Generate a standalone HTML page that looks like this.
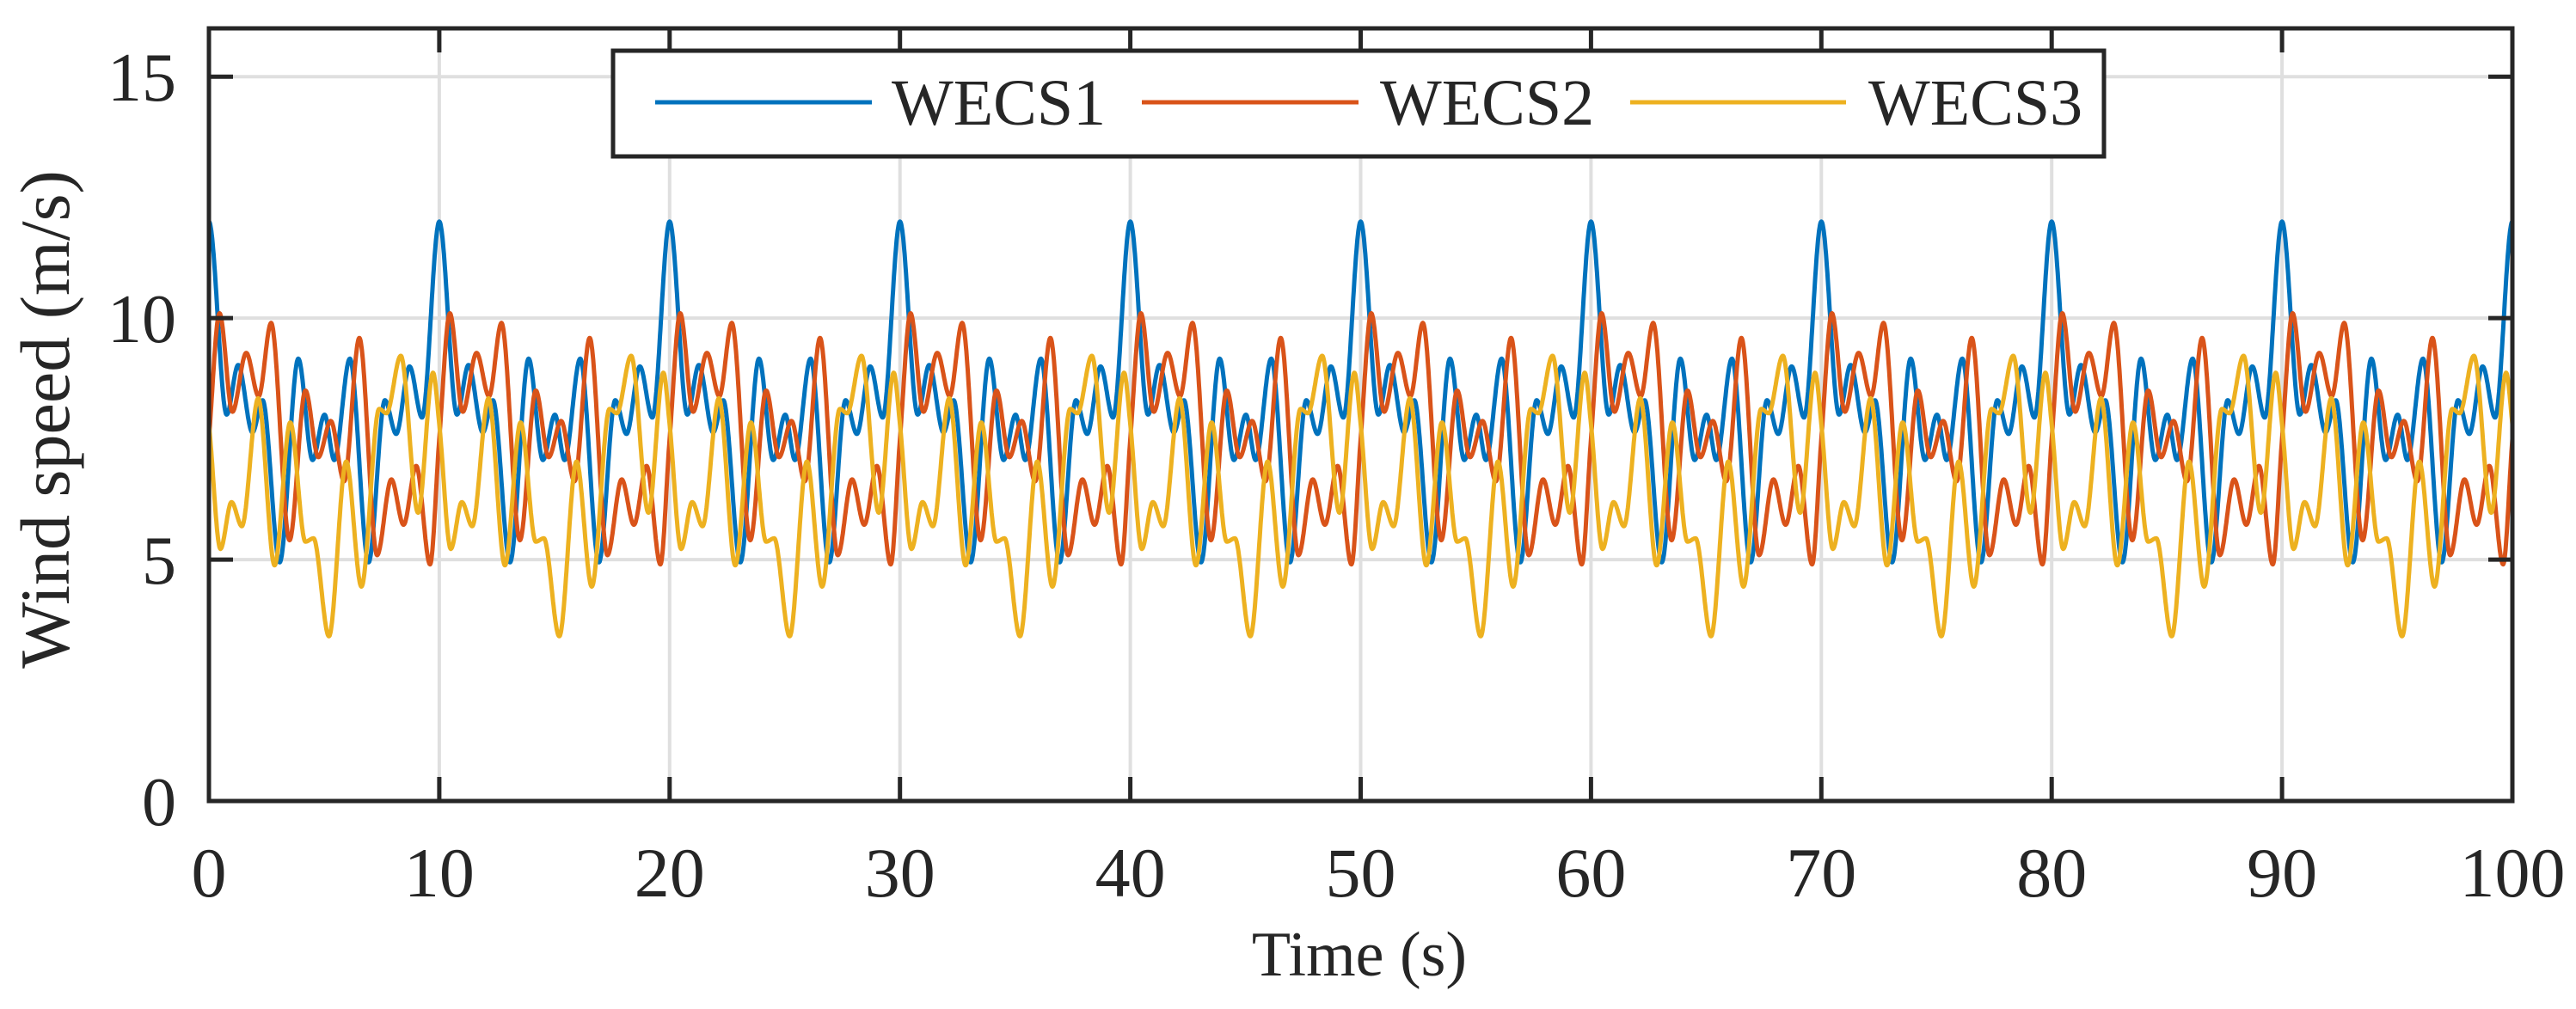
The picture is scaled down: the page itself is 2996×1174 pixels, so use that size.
<!DOCTYPE html>
<html><head><meta charset="utf-8"><style>
html,body{margin:0;padding:0;background:#fff;}
svg{display:block;}
text{font-family:"Liberation Serif",serif;fill:#262626;}
</style></head><body>
<svg id="chart" width="2996" height="1174" viewBox="0 0 2996 1174" xmlns="http://www.w3.org/2000/svg">
<rect width="2996" height="1174" fill="#fff"/>
<g id="grid"></g>
<g id="series"></g>
<g id="axes"></g>
<text x="1581" y="1135" font-size="74" text-anchor="middle">Time (s)</text>
<text x="0" y="0" font-size="82" text-anchor="middle" transform="translate(80,488) rotate(-90)">Wind speed (m/s)</text>
<g id="legend">
<rect x="713" y="59" width="1734" height="123" fill="#fff" stroke="#262626" stroke-width="5"/>
<line x1="762" y1="119" x2="1014" y2="119" stroke="#0072bd" stroke-width="5"/>
<text x="1037" y="145" font-size="76">WECS1</text>
<line x1="1328" y1="119" x2="1580" y2="119" stroke="#d95319" stroke-width="5"/>
<text x="1605" y="145" font-size="76">WECS2</text>
<line x1="1896" y1="119" x2="2147" y2="119" stroke="#edb120" stroke-width="5"/>
<text x="2173" y="145" font-size="76">WECS3</text>
</g>
</svg>
<script>
// one 10-s period of each series (extrema)
const periodLength = 10;
const periodCount = 10;
const wecs1T = [0, 0.77, 1.27, 1.89, 2.33, 3.07, 3.88, 4.5, 5.02, 5.44, 6.12, 6.93, 7.64, 8.13, 8.71, 9.25, 10];
const wecs1V = [12.0, 8.0, 9.03, 7.63, 8.3, 4.94, 9.16, 7.06, 8.0, 7.06, 9.16, 4.94, 8.3, 7.6, 9.0, 7.94, 12.0];
const wecs2T = [0, 0.46, 1.02, 1.62, 2.16, 2.7, 3.5, 4.19, 4.75, 5.29, 5.87, 6.53, 7.3, 7.92, 8.45, 9.0, 9.6, 10];
const wecs2V = [7.5, 10.1, 8.06, 9.28, 8.38, 9.9, 5.4, 8.5, 7.12, 7.87, 6.62, 9.59, 5.09, 6.66, 5.72, 6.94, 4.9, 7.5];
const wecs3T = [0, 0.5, 0.98, 1.43, 2.14, 2.85, 3.53, 4.19, 4.54, 5.21, 5.96, 6.62, 7.39, 7.71, 8.33, 9.08, 9.73, 10];
const wecs3V = [7.8, 5.22, 6.19, 5.69, 8.34, 4.88, 7.84, 5.37, 5.44, 3.41, 7.03, 4.44, 8.12, 8.03, 9.22, 5.97, 8.87, 7.8];
const xTicks = [0, 10, 20, 30, 40, 50, 60, 70, 80, 90, 100];
const yTicks = [0, 5, 10, 15];
const xDomain = [0, 100];
const yDomain = [0, 16];

const NS = "http://www.w3.org/2000/svg";
const L = 243, R = 2922, T = 33, B = 932;
function xs(v){ return L + (v - xDomain[0]) / (xDomain[1] - xDomain[0]) * (R - L); }
function ys(v){ return B - (v - yDomain[0]) / (yDomain[1] - yDomain[0]) * (B - T); }
function mk(tag, attrs, parent){ const e = document.createElementNS(NS, tag); for (const k in attrs) e.setAttribute(k, attrs[k]); parent.appendChild(e); return e; }

const grid = document.getElementById('grid');
const axes = document.getElementById('axes');
xTicks.forEach(v => {
  const g = mk('line', {x1: xs(v), x2: xs(v), y1: T, y2: B, stroke: '#dfdfdf', 'stroke-width': 4}, grid);
  
  
  const t1 = mk('line', {x1: xs(v), x2: xs(v), y1: B, y2: B - 28, stroke: '#262626', 'stroke-width': 5}, axes);
  
  
  const t2 = mk('line', {x1: xs(v), x2: xs(v), y1: T, y2: T + 28, stroke: '#262626', 'stroke-width': 5}, axes);
  
  
  const lb = mk('text', {x: xs(v), y: 1043, 'font-size': 82, 'text-anchor': 'middle'}, axes);
  lb.textContent = v;
  
  
});
yTicks.forEach(v => {
  const g = mk('line', {x1: L, x2: R, y1: ys(v), y2: ys(v), stroke: '#dfdfdf', 'stroke-width': 4}, grid);
  
  
  const t1 = mk('line', {x1: L, x2: L + 28, y1: ys(v), y2: ys(v), stroke: '#262626', 'stroke-width': 5}, axes);
  
  
  const t2 = mk('line', {x1: R, x2: R - 28, y1: ys(v), y2: ys(v), stroke: '#262626', 'stroke-width': 5}, axes);
  
  
  const lb = mk('text', {x: 205, y: ys(v) + 28, 'font-size': 80, 'text-anchor': 'end'}, axes);
  lb.textContent = v;
  
  
});
const frame = mk('rect', {x: L, y: T, width: R - L, height: B - T, fill: 'none', stroke: '#262626', 'stroke-width': 5}, axes);



function monotone(xsArr, ysArr){
  const n = xsArr.length, d = [], m = new Array(n);
  for (let i = 0; i < n - 1; i++) d.push((ysArr[i+1] - ysArr[i]) / (xsArr[i+1] - xsArr[i]));
  for (let i = 1; i < n - 1; i++) m[i] = (d[i-1] * d[i] <= 0) ? 0 : 2 / (1/d[i-1] + 1/d[i]);
  const dw0 = d[n-2], dw1 = d[0];
  const me = (dw0 * dw1 <= 0) ? 0 : 2 / (1/dw0 + 1/dw1);
  m[0] = me; m[n-1] = me;
  return function(x){
    let i = 0; while (i < n - 2 && x > xsArr[i+1]) i++;
    const h = xsArr[i+1] - xsArr[i], t = (x - xsArr[i]) / h;
    const t2 = t*t, t3 = t2*t;
    return (2*t3 - 3*t2 + 1) * ysArr[i] + (t3 - 2*t2 + t) * h * m[i] + (-2*t3 + 3*t2) * ysArr[i+1] + (t3 - t2) * h * m[i+1];
  };
}
const seriesG = document.getElementById('series');
function draw(tArr, vArr, color, name){
  const f = monotone(tArr, vArr);
  let dstr = '';
  const step = 0.02;
  const total = Math.round(periodCount * periodLength / step);
  for (let k = 0; k <= total; k++){
    const t = k * step;
    let local = t % periodLength;
    if (k === total) local = periodLength;
    const v = f(local);
    dstr += (k ? 'L' : 'M') + xs(t).toFixed(1) + ',' + ys(v).toFixed(1);
  }
  const p = mk('path', {d: dstr, fill: 'none', stroke: color, 'stroke-width': 5, 'stroke-linejoin': 'round'}, seriesG);
  
  
}
draw(wecs1T, wecs1V, '#0072bd', 'wecs1-line');
draw(wecs2T, wecs2V, '#d95319', 'wecs2-line');
draw(wecs3T, wecs3V, '#edb120', 'wecs3-line');
</script>
</body></html>
